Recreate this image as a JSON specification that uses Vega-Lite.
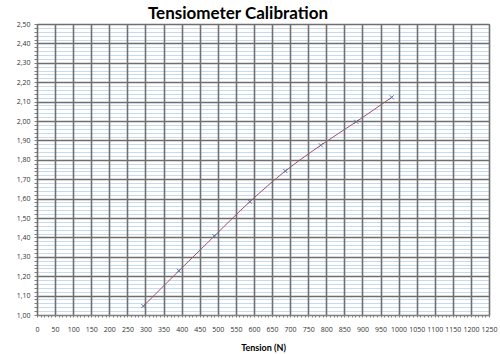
{
  "$schema": "https://vega.github.io/schema/vega-lite/v6.json",
  "width": 452,
  "height": 291,
  "autosize": {"type": "none"},
  "padding": {"left": 37, "top": 24, "right": 11, "bottom": 39},
  "background": "#ffffff",
  "config": {
    "locale": {"number": {"decimal": ",", "thousands": "", "grouping": [3], "currency": ["", ""]}},
    "view": {"stroke": "#808080", "strokeWidth": 1},
    "font": "Lato"
  },
  "title": {
    "text": "Tensiometer Calibration",
    "fontSize": 17,
    "fontWeight": "bold",
    "font": "Lato",
    "color": "#000000",
    "anchor": "middle",
    "offset": -3,
    "dx": -25
  },
  "data": {
    "values": [
      {"tension": 294.3, "value": 1.046},
      {"tension": 392.4, "value": 1.228},
      {"tension": 490.5, "value": 1.407},
      {"tension": 588.6, "value": 1.584},
      {"tension": 686.7, "value": 1.742},
      {"tension": 784.8, "value": 1.875},
      {"tension": 882.9, "value": 1.996},
      {"tension": 981.0, "value": 2.122}
    ]
  },
  "encoding": {
    "x": {
      "field": "tension",
      "type": "quantitative",
      "scale": {"domain": [0, 1250], "nice": false, "zero": false},
      "axis": {
        "title": "Tension (N)",
        "titleFontSize": 9,
        "titleFont": "Lato",
        "titleFontWeight": "bold",
        "titleColor": "#000000",
        "titlePadding": 11,
        "zindex": 1,
        "values": [0,10,20,30,40,50,60,70,80,90,100,110,120,130,140,150,160,170,180,190,200,210,220,230,240,250,260,270,280,290,300,310,320,330,340,350,360,370,380,390,400,410,420,430,440,450,460,470,480,490,500,510,520,530,540,550,560,570,580,590,600,610,620,630,640,650,660,670,680,690,700,710,720,730,740,750,760,770,780,790,800,810,820,830,840,850,860,870,880,890,900,910,920,930,940,950,960,970,980,990,1000,1010,1020,1030,1040,1050,1060,1070,1080,1090,1100,1110,1120,1130,1140,1150,1160,1170,1180,1190,1200,1210,1220,1230,1240,1250],
        "labelExpr": "datum.value % 50 === 0 ? datum.label : ''",
        "format": "d",
        "labelFontSize": 7,
        "labelFont": "Open Sans",
        "labelColor": "#333333",
        "labelPadding": 8,
        "labelFlush": false,
        "labelOverlap": false,
        "tickSize": 2,
        "tickColor": "#808080",
        "domainColor": "#808080",
        "grid": true,
        "gridColor": "#707070",
        "gridWidth": 1.6,
        "gridOpacity": {"condition": {"test": "datum.value % 50 === 0", "value": 1}, "value": 0}
      }
    },
    "y": {
      "field": "value",
      "type": "quantitative",
      "scale": {"domain": [1.0, 2.5], "nice": false, "zero": false},
      "axis": {
        "title": null,
        "zindex": 0,
        "values": [1.00,1.02,1.04,1.06,1.08,1.10,1.12,1.14,1.16,1.18,1.20,1.22,1.24,1.26,1.28,1.30,1.32,1.34,1.36,1.38,1.40,1.42,1.44,1.46,1.48,1.50,1.52,1.54,1.56,1.58,1.60,1.62,1.64,1.66,1.68,1.70,1.72,1.74,1.76,1.78,1.80,1.82,1.84,1.86,1.88,1.90,1.92,1.94,1.96,1.98,2.00,2.02,2.04,2.06,2.08,2.10,2.12,2.14,2.16,2.18,2.20,2.22,2.24,2.26,2.28,2.30,2.32,2.34,2.36,2.38,2.40,2.42,2.44,2.46,2.48,2.50],
        "format": ".2f",
        "labelExpr": "abs(round(datum.value*10) - datum.value*10) < 0.001 ? datum.label : ''",
        "labelFontSize": 7,
        "labelFont": "Open Sans",
        "labelColor": "#333333",
        "labelPadding": 4,
        "labelOverlap": false,
        "tickSize": 3,
        "tickColor": "#808080",
        "domainColor": "#808080",
        "grid": true,
        "gridColor": {"condition": {"test": "abs(round(datum.value*10) - datum.value*10) < 0.001", "value": "#6e6e6e"}, "value": "#c8daf0"},
        "gridWidth": {"condition": {"test": "abs(round(datum.value*10) - datum.value*10) < 0.001", "value": 1.5}, "value": 1}
      }
    }
  },
  "layer": [
    {"mark": {"type": "line", "color": "#a2505e", "strokeWidth": 1, "interpolate": "monotone"}},
    {"mark": {"type": "point", "shape": "M-1,-1L1,1M1,-1L-1,1", "size": 16, "filled": false, "color": "#5b6fa0", "strokeWidth": 1, "opacity": 1}}
  ]
}
